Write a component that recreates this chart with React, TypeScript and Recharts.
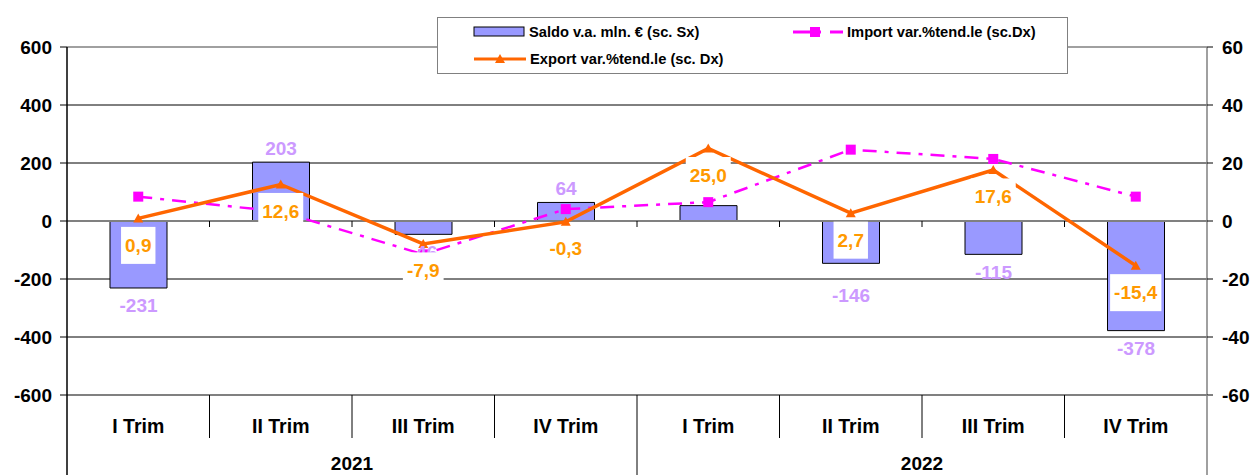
import React from 'react';
import {
  ComposedChart, Bar, Line, XAxis, YAxis, CartesianGrid, ReferenceLine, LabelList, Legend,
} from 'recharts';

const categories = ['I Trim', 'II Trim', 'III Trim', 'IV Trim', 'I Trim', 'II Trim', 'III Trim', 'IV Trim'];
const years = ['2021', '2022'];
const saldo = [-231, 203, -46, 64, 53, -146, -115, -378];
const saldoLabelShown = [true, true, true, true, false, true, true, true];
const importVar = [8.4, 3.2, -11.5, 4.1, 6.5, 24.6, 21.4, 8.4];
const exportVar = [0.9, 12.6, -7.9, -0.3, 25.0, 2.7, 17.6, -15.4];
const leftTicks = [-600, -400, -200, 0, 200, 400, 600];
const rightTicks = [-60, -40, -20, 0, 20, 40, 60];
const LEFT_MAX = 600;
const RIGHT_MAX = 60;

const seriesNames = {
  saldo: 'Saldo v.a. mln. € (sc. Sx)',
  imp: 'Import var.%tend.le (sc.Dx)',
  exp: 'Export var.%tend.le (sc. Dx)',
};

const data = categories.map((c, i) => ({
  name: c,
  saldo: saldo[i],
  imp: importVar[i],
  exp: exportVar[i],
}));

const FONT = 'Liberation Sans, Arial, Helvetica, sans-serif';
const BAR_FILL = '#9999FF';
const IMP_COLOR = '#FF00FF';
const EXP_COLOR = '#FF6600';
const SALDO_LABEL = '#CC99FF';
const EXP_LABEL = '#FF9900';
const LABEL_SIZE = 19;
const EXP_LABEL_OFFSET = 27;
const MIN_LABEL_GAP = 55;

const fmt1 = (v: number) => v.toFixed(1).replace('.', ',');
const approxWidth = (s: string, size: number) =>
  s.split('').reduce((a, ch) => a + (ch === ',' ? 0.278 : ch === '-' ? 0.333 : 0.556), 0) * size;

const XTick = (props: any) => {
  const { x, y, index, width } = props;
  const band = width / categories.length;
  const perYear = categories.length / years.length;
  const els: any[] = [];
  els.push(
    <text key="t" x={x} y={y + 31} textAnchor="middle" dominantBaseline="central"
      fontFamily={FONT} fontWeight="bold" fontSize={19.5} fill="#000">{categories[index]}</text>
  );
  if (index === 0) {
    els.push(<line key="l0" x1={x - band / 2} x2={x - band / 2} y1={y} y2={y + 80} stroke="#000" strokeWidth={1.5} />);
  }
  if (index < categories.length - 1) {
    const long = (index + 1) % perYear === 0;
    els.push(<line key="d" x1={x + band / 2} x2={x + band / 2} y1={y} y2={long ? y + 80 : y + 43} stroke="#000" strokeWidth={1} />);
  } else {
    els.push(<line key="lr" x1={x + band / 2} x2={x + band / 2} y1={y} y2={y + 80} stroke="#808080" strokeWidth={1.5} />);
  }
  if (index % perYear === 0) {
    els.push(
      <text key="y" x={x + band * (perYear - 1) / 2} y={y + 68} textAnchor="middle" dominantBaseline="central"
        fontFamily={FONT} fontWeight="bold" fontSize={19} fill="#000">{years[index / perYear]}</text>
    );
  }
  return <g>{els}</g>;
};

const ZeroLine = (props: any) => {
  const { x1, x2, y1 } = props;
  const n = categories.length;
  const band = (x2 - x1) / n;
  const ticks = [];
  for (let i = 1; i < n; i++) {
    ticks.push(<line key={i} x1={x1 + band * i} x2={x1 + band * i} y1={y1} y2={y1 + 6} stroke="#000" strokeWidth={1} />);
  }
  return (
    <g>
      <line x1={x1} x2={x2} y1={y1} y2={y1} stroke="#808080" strokeWidth={2} />
      {ticks}
    </g>
  );
};

const SaldoLabel = (props: any) => {
  const { x, y, width, height, value, index } = props;
  if (!saldoLabelShown[index]) return null;
  const cx = x + width / 2;
  const top = Math.min(y, y + height);
  const bottom = Math.max(y, y + height);
  let ty = value >= 0 ? top - 14 : bottom + 18;
  if (value < 0 && value !== 0) {
    // keep the bar label clear of the export label below the same category
    const pxPerUnit = (bottom - top) / Math.abs(value);
    const zeroY = top;
    const expY = zeroY - exportVar[index] * pxPerUnit * (LEFT_MAX / RIGHT_MAX) + EXP_LABEL_OFFSET;
    if (ty > expY && ty - expY < MIN_LABEL_GAP) ty = expY + MIN_LABEL_GAP;
  }
  return (
    <text x={cx} y={ty} textAnchor="middle" dominantBaseline="central" fontFamily={FONT}
      fontWeight="bold" fontSize={LABEL_SIZE} fill={SALDO_LABEL}>{value}</text>
  );
};

const ExportLabel = (props: any) => {
  const { x, y, value } = props;
  const s = fmt1(value);
  const w = approxWidth(s, LABEL_SIZE) + 8;
  const cy = y + EXP_LABEL_OFFSET;
  return (
    <g>
      <rect x={x - w / 2} y={cy - 18.5} width={w} height={37} fill="#fff" />
      <text x={x} y={cy} textAnchor="middle" dominantBaseline="central" fontFamily={FONT}
        fontWeight="bold" fontSize={LABEL_SIZE} fill={EXP_LABEL}>{s}</text>
    </g>
  );
};

const TriangleDot = (props: any) => {
  const { cx, cy } = props;
  if (cx == null || cy == null) return null;
  return <path d={`M${cx},${cy - 5} L${cx + 5},${cy + 4} L${cx - 5},${cy + 4} Z`} fill={EXP_COLOR} />;
};

const SquareDot = (props: any) => {
  const { cx, cy } = props;
  if (cx == null || cy == null) return null;
  return <rect x={cx - 5} y={cy - 5} width={10} height={10} fill={IMP_COLOR} />;
};

const LegendBox = () => {
  const txt = { fontFamily: FONT, fontWeight: 'bold' as const, fontSize: 14.7, fill: '#000' };
  return (
    <div style={{ width: 631, height: 57, border: '1.5px solid #808080', boxSizing: 'border-box', background: '#fff' }}>
      <svg width={628} height={54} style={{ display: 'block' }}>
        <rect x={36} y={9} width={50} height={9} fill={BAR_FILL} stroke="#000" strokeWidth={1} />
        <text x={91} y={14} dominantBaseline="central" {...txt}>{seriesNames.saldo}</text>
        <line x1={355} x2={383} y1={14} y2={14} stroke={IMP_COLOR} strokeWidth={3} />
        <line x1={392} x2={405} y1={14} y2={14} stroke={IMP_COLOR} strokeWidth={3} />
        <rect x={372} y={9} width={10} height={10} fill={IMP_COLOR} />
        <text x={409} y={14} dominantBaseline="central" {...txt}>{seriesNames.imp}</text>
        <line x1={36} x2={88} y1={41} y2={41} stroke={EXP_COLOR} strokeWidth={3} />
        <path d="M62,36 L67,45 L57,45 Z" fill={EXP_COLOR} />
        <text x={92} y={41} dominantBaseline="central" {...txt}>{seriesNames.exp}</text>
      </svg>
    </div>
  );
};

export default function App() {
  return (
    <div style={{ position: 'absolute', left: 0, top: 0, width: 1251, height: 475, background: '#fff' }}>
      <ComposedChart width={1251} height={475} data={data} margin={{ top: 47, right: 0, bottom: 0, left: 0 }}>
        <CartesianGrid yAxisId="left" vertical={false} stroke="#000" strokeWidth={1} />
        <XAxis dataKey="name" height={80} tickSize={0} tickMargin={0} tick={<XTick />} interval={0}
          axisLine={{ stroke: '#808080', strokeWidth: 2 }} tickLine={false} />
        <YAxis yAxisId="left" domain={[-LEFT_MAX, LEFT_MAX]} ticks={leftTicks} width={67} tickSize={7} tickMargin={8}
          axisLine={{ stroke: '#000', strokeWidth: 1.5 }} tickLine={{ stroke: '#000' }}
          tick={{ fontFamily: FONT, fontWeight: 'bold', fontSize: 19, fill: '#000' }} interval={0} />
        <YAxis yAxisId="right" orientation="right" domain={[-RIGHT_MAX, RIGHT_MAX]} ticks={rightTicks} width={44} tickSize={6} tickMargin={9}
          axisLine={{ stroke: '#808080', strokeWidth: 1.5 }} tickLine={{ stroke: '#000' }}
          tick={{ fontFamily: FONT, fontWeight: 'bold', fontSize: 19, fill: '#000', textAnchor: 'start' }} interval={0} />
        <ReferenceLine yAxisId="left" y={LEFT_MAX} stroke="#A0A0A0" strokeWidth={2} />
        <ReferenceLine yAxisId="left" y={0} shape={<ZeroLine />} />
        <Legend layout="horizontal" verticalAlign="middle" align="center"
          wrapperStyle={{ position: 'absolute', left: 437, top: 17, width: 631, height: 57 }}
          content={() => <LegendBox />} />
        <Bar yAxisId="left" dataKey="saldo" name={seriesNames.saldo} fill={BAR_FILL} stroke="#000" strokeWidth={1}
          barSize={57} isAnimationActive={false}>
          <LabelList dataKey="saldo" content={<SaldoLabel />} />
        </Bar>
        <Line yAxisId="right" dataKey="imp" name={seriesNames.imp} stroke={IMP_COLOR} strokeWidth={2.5}
          strokeDasharray="14 8 4 8" dot={<SquareDot />} activeDot={false} isAnimationActive={false} />
        <Line yAxisId="right" dataKey="exp" name={seriesNames.exp} stroke={EXP_COLOR} strokeWidth={3.5}
          dot={<TriangleDot />} activeDot={false} isAnimationActive={false}>
          <LabelList dataKey="exp" content={<ExportLabel />} />
        </Line>
      </ComposedChart>
    </div>
  );
}
